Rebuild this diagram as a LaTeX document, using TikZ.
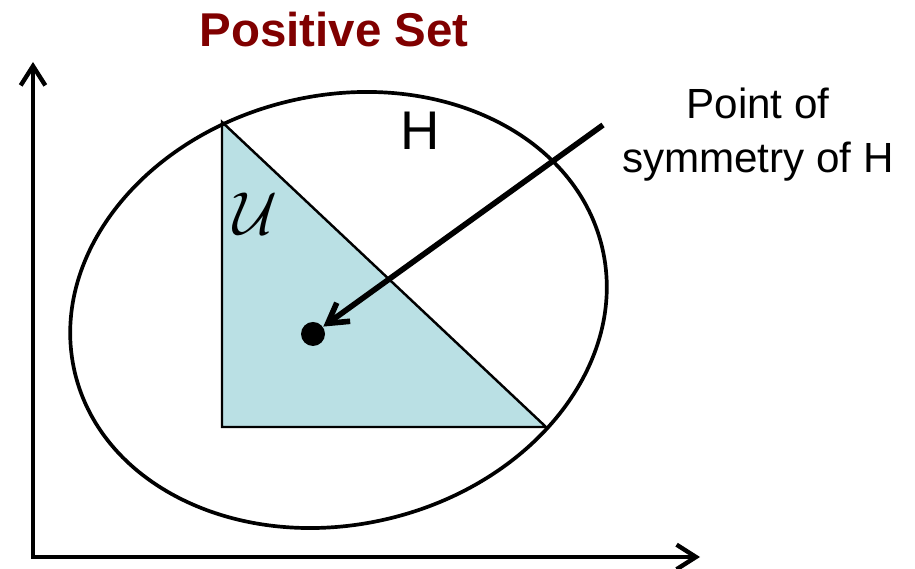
\documentclass[tikz,border=0pt]{standalone}
\usepackage{fontspec}
\setmainfont{Liberation Sans}
\usetikzlibrary{arrows.meta}
\definecolor{darkred}{RGB}{128,0,0}
\definecolor{ufill}{RGB}{186,224,228}

\begin{document}
\begin{tikzpicture}[
    axis/.style={line width=1.25pt, line join=miter,
      {Straight Barb[length=5.5pt,width=7pt]}-{Straight Barb[length=5.5pt,width=7pt]}},
    pointer/.style={line width=1.6pt, -{Straight Barb[length=5.5pt,width=6.5pt]}},
  ]
    \useasboundingbox (0,0) rectangle (9.15,5.69);

    % axes
    \coordinate (O) at (0.33,0.12);
    \coordinate (Y) at (0.33,5.07);
    \coordinate (X) at (7.00,0.12);
    \draw[axis] (Y) -- (O) -- (X);

    % ensemble U : triangle
    \coordinate (A) at (2.22,4.47);
    \coordinate (B) at (2.22,1.42);
    \coordinate (C) at (5.46,1.42);
    \fill[ufill] (A) -- (B) -- (C) -- cycle;
    \draw[line width=0.7pt] (A) -- (B) -- (C) -- cycle;

    % H : ellipse inclinee
    \coordinate (M) at (3.385,2.59);
    \draw[line width=1.05pt, shift={(M)}, rotate=13.4] (0,0) ellipse (2.71 and 2.146);

    % point de symetrie
    \node[circle, fill, inner sep=0pt, minimum size=0.24cm] (P) at (3.13,2.35) {};
    \coordinate (S) at (6.03,4.44);
    \draw[pointer] (S) -- (P);

    \node[text=darkred, font=\bfseries\fontsize{13.5}{16}\selectfont] (title) at (3.34,5.39) {Positive Set};
    \node[font=\fontsize{15.5}{18}\selectfont] (h) at (4.20,4.38) {H};
    \node[font=\fontsize{18}{20}\selectfont] (u) at (2.56,3.55) {$\mathcal{U}$};
    \node[align=center, font=\fontsize{12}{15.4}\selectfont] (lbl) at (7.58,4.34) {Point of\\symmetry of H};
\end{tikzpicture}
\end{document}
